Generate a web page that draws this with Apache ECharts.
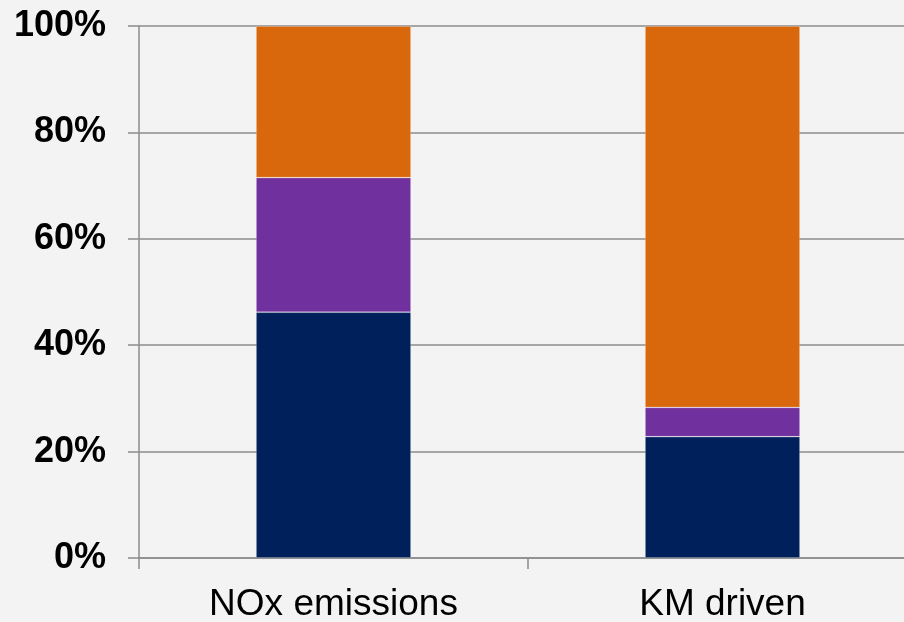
<!DOCTYPE html>
<html>
<head>
<meta charset="utf-8">
<script src="https://cdn.jsdelivr.net/npm/echarts@6/dist/echarts.min.js"></script>
<style>
  html, body { margin: 0; padding: 0; background: #f3f3f3; }
  #chart { width: 904px; height: 622px; }
</style>
</head>
<body>
<div id="chart"></div>
<script>
// Share of NOx emissions vs. kilometres driven, by vehicle group (stacked to 100%)
const categories = ['NOx emissions', 'KM driven'];
const navyShare = [46.2, 22.8];
const purpleShare = [25.3, 5.5];
const orangeShare = [28.5, 71.7];
const yTicks = [0, 20, 40, 60, 80, 100];

const axisGray = '#8c8c8c';
const font = '"Liberation Sans", Arial, sans-serif';

const chart = echarts.init(document.getElementById('chart'));

function stackSeries(name, data, color) {
  return {
    name: name,
    type: 'bar',
    stack: 'total',
    data: data,
    barWidth: 155,
    itemStyle: { color: color, borderColor: 'rgba(255,255,255,0.25)', borderWidth: 0.8 },
    emphasis: { disabled: true }
  };
}

chart.setOption({
  backgroundColor: '#f3f3f3',
  animation: false,
  grid: { left: 139, top: 26, width: 778, bottom: 64, containLabel: false, outerBoundsMode: 'none' },
  xAxis: {
    type: 'category',
    data: categories,
    axisLine: { lineStyle: { color: axisGray, width: 1.5 } },
    axisTick: { show: true, length: 11, alignWithLabel: false, lineStyle: { color: axisGray, width: 1.5 } },
    axisLabel: { color: '#000', fontFamily: font, fontSize: 37, margin: 28 }
  },
  yAxis: {
    type: 'value',
    min: yTicks[0],
    max: yTicks[yTicks.length - 1],
    interval: 20,
    axisLine: { show: true, lineStyle: { color: axisGray, width: 1.5 } },
    axisTick: { show: true, length: 11, lineStyle: { color: axisGray, width: 1.5 } },
    splitLine: { show: true, lineStyle: { color: axisGray, width: 1.5 } },
    axisLabel: {
      color: '#000', fontFamily: font, fontSize: 36, fontWeight: 'bold', margin: 33,
      formatter: v => v + '%'
    }
  },
  series: [
    stackSeries('Group A', navyShare, '#00205c'),
    stackSeries('Group B', purpleShare, '#70309e'),
    stackSeries('Group C', orangeShare, '#d9680d')
  ]
});
</script>
</body>
</html>
